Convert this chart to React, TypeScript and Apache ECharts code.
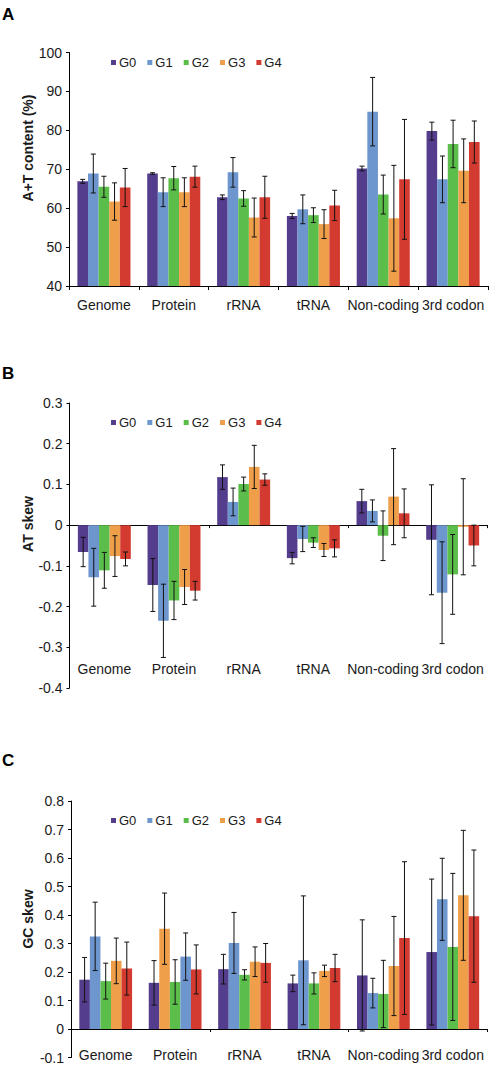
import React, { useEffect, useRef } from "react";
import * as echarts from "echarts";

const categories = ["Genome", "Protein", "rRNA", "tRNA", "Non-coding", "3rd codon"];
const groups = ["G0", "G1", "G2", "G3", "G4"];

// Panel A: A+T content (%)
const atG0 = [66.9, 68.9, 62.8, 58.0, 70.2, 79.8];
const atG1 = [68.9, 64.1, 69.2, 59.7, 84.8, 67.4];
const atG2 = [65.5, 67.7, 62.5, 58.2, 63.5, 76.5];
const atG3 = [61.7, 64.1, 57.6, 55.9, 57.4, 69.6];
const atG4 = [65.3, 68.1, 62.8, 60.7, 67.4, 77.0];
const atErrG0 = [0.5, 0.2, 0.6, 0.65, 0.6, 2.3];
const atErrG1 = [5.0, 3.7, 3.8, 3.7, 8.8, 6.0];
const atErrG2 = [2.7, 3.0, 2.0, 1.9, 5.0, 6.1];
const atErrG3 = [4.8, 3.7, 5.0, 3.7, 13.6, 8.2];
const atErrG4 = [4.9, 2.7, 5.4, 3.9, 15.4, 5.4];

// Panel B: AT skew
const askG0 = [-0.066, -0.147, 0.118, -0.081, 0.059, -0.036];
const askG1 = [-0.128, -0.235, 0.057, -0.034, 0.035, -0.166];
const askG2 = [-0.111, -0.185, 0.101, -0.043, -0.026, -0.121];
const askG3 = [-0.076, -0.152, 0.143, -0.061, 0.07, -0.004];
const askG4 = [-0.083, -0.161, 0.112, -0.057, 0.029, -0.05];
const askErrG0 = [0.036, 0.065, 0.03, 0.014, 0.029, 0.135];
const askErrG1 = [0.071, 0.09, 0.034, 0.031, 0.027, 0.125];
const askErrG2 = [0.044, 0.047, 0.017, 0.012, 0.061, 0.098];
const askErrG3 = [0.05, 0.043, 0.053, 0.016, 0.118, 0.118];
const askErrG4 = [0.017, 0.023, 0.014, 0.021, 0.06, 0.05];

// Panel C: GC skew
const gskG0 = [0.173, 0.162, 0.21, 0.16, 0.188, 0.27];
const gskG1 = [0.325, 0.352, 0.302, 0.241, 0.126, 0.455];
const gskG2 = [0.168, 0.165, 0.19, 0.16, 0.123, 0.288];
const gskG3 = [0.239, 0.254, 0.236, 0.204, 0.221, 0.469];
const gskG4 = [0.212, 0.209, 0.232, 0.214, 0.319, 0.396];
const gskErrG0 = [0.078, 0.078, 0.052, 0.029, 0.195, 0.256];
const gskErrG1 = [0.12, 0.125, 0.107, 0.226, 0.052, 0.144];
const gskErrG2 = [0.063, 0.078, 0.018, 0.037, 0.118, 0.258];
const gskErrG3 = [0.08, 0.083, 0.052, 0.02, 0.174, 0.228];
const gskErrG4 = [0.093, 0.086, 0.068, 0.048, 0.268, 0.232];

// A-tick labels
const atTicks = { min: 40, max: 100, interval: 10 };
const askTicks = { min: -0.4, max: 0.3, interval: 0.1 };
const gskTicks = { min: -0.1, max: 0.8, interval: 0.1 };

const COLORS = ["#553D8E", "#6D96CF", "#5CBE4A", "#EF9E4A", "#D43B30"];
const FONT = "'Liberation Sans', Arial, Helvetica, sans-serif";
const GAP = 0.24;
// In the GC-skew panel, the G1 and G3 colours are exchanged for this category in the source figure
const gcSwapCategory = "Protein";

const panels = [
  {
    name: "A+T content (%)",
    letter: "A",
    vals: [atG0, atG1, atG2, atG3, atG4],
    errs: [atErrG0, atErrG1, atErrG2, atErrG3, atErrG4],
    ticks: atTicks,
    grid: { left: 69, top: 52.5, width: 419, height: 233.5 },
    legendTop: 56,
    nameY: 148,
    letterY: 14,
    labelOffset: 0,
    labelMargin: 12,
    zeroAxis: false,
    swap: null as string | null,
  },
  {
    name: "AT skew",
    letter: "B",
    vals: [askG0, askG1, askG2, askG3, askG4],
    errs: [askErrG0, askErrG1, askErrG2, askErrG3, askErrG4],
    ticks: askTicks,
    grid: { left: 69.5, top: 403, width: 418, height: 285 },
    legendTop: 416,
    nameY: 524,
    letterY: 373,
    labelOffset: -34,
    labelMargin: 8,
    zeroAxis: true,
    swap: null as string | null,
  },
  {
    name: "GC skew",
    letter: "C",
    vals: [gskG0, gskG1, gskG2, gskG3, gskG4],
    errs: [gskErrG0, gskErrG1, gskErrG2, gskErrG3, gskErrG4],
    ticks: gskTicks,
    grid: { left: 71, top: 801, width: 416.5, height: 256.5 },
    legendTop: 814,
    nameY: 919,
    letterY: 760,
    labelOffset: -17.5,
    labelMargin: 8,
    zeroAxis: true,
    swap: gcSwapCategory as string | null,
  },
];

function buildOption() {
  const grids: any[] = [];
  const xAxes: any[] = [];
  const yAxes: any[] = [];
  const series: any[] = [];
  const legends: any[] = [];
  const graphics: any[] = [];

  panels.forEach((p, pi) => {
    grids.push({ ...p.grid, containLabel: false });
    const labelAxisIndex = xAxes.length;
    xAxes.push({
      type: "category",
      gridIndex: pi,
      data: categories,
      position: "bottom",
      offset: p.labelOffset,
      axisLine: p.zeroAxis
        ? { show: false, onZero: false }
        : { show: true, onZero: false, lineStyle: { color: "#000", width: 1 } },
      axisTick: p.zeroAxis
        ? { show: false }
        : { show: true, length: 4, lineStyle: { color: "#000" } },
      axisLabel: {
        show: true,
        margin: p.labelMargin,
        color: "#1a1a1a",
        fontSize: 14,
        fontFamily: FONT,
        interval: 0,
      },
      splitLine: { show: false },
    });
    if (p.zeroAxis) {
      xAxes.push({
        type: "category",
        gridIndex: pi,
        data: categories,
        position: "bottom",
        axisLine: { show: true, onZero: true, onZeroAxisIndex: pi, lineStyle: { color: "#000", width: 1 } },
        axisTick: { show: true, length: 3, lineStyle: { color: "#000" } },
        axisLabel: { show: false },
        splitLine: { show: false },
      });
    }
    yAxes.push({
      type: "value",
      gridIndex: pi,
      min: p.ticks.min,
      max: p.ticks.max,
      interval: p.ticks.interval,
      axisLine: { show: true, lineStyle: { color: "#000", width: 1 } },
      axisTick: { show: true, length: 3, lineStyle: { color: "#000" } },
      axisLabel: { color: "#1a1a1a", fontSize: 14, fontFamily: FONT, margin: 7 },
      splitLine: { show: false },
    });

    groups.forEach((g, gi) => {
      series.push({
        type: "bar",
        name: g,
        xAxisIndex: labelAxisIndex,
        yAxisIndex: pi,
        barGap: "0%",
        barCategoryGap: GAP * 100 + "%",
        itemStyle: { color: COLORS[gi] },
        data: p.vals[gi].map((v, k) => {
          if (p.swap && categories[k] === p.swap && (gi === 1 || gi === 3)) {
            return { value: v, itemStyle: { color: COLORS[gi === 1 ? 3 : 1] } };
          }
          return v;
        }),
      });
    });
    groups.forEach((g, gi) => {
      series.push({
        type: "custom",
        xAxisIndex: labelAxisIndex,
        yAxisIndex: pi,
        z: 10,
        silent: true,
        data: p.vals[gi].map((v, k) => [k, v, p.errs[gi][k]]),
        encode: { x: 0, y: 1 },
        renderItem: (params: any, api: any) => {
          const k = api.value(0);
          const v = api.value(1);
          const e = api.value(2);
          const band = api.size([1, 0])[0];
          const bw = (band * (1 - GAP)) / groups.length;
          const x = api.coord([k, v])[0] + (gi - (groups.length - 1) / 2) * bw;
          const yt = api.coord([k, v + e])[1];
          const yb = api.coord([k, v - e])[1];
          const style = { stroke: "#111", lineWidth: 1 };
          return {
            type: "group",
            children: [
              { type: "line", shape: { x1: x, y1: yt, x2: x, y2: yb }, style },
              { type: "line", shape: { x1: x - 2.5, y1: yt, x2: x + 2.5, y2: yt }, style },
              { type: "line", shape: { x1: x - 2.5, y1: yb, x2: x + 2.5, y2: yb }, style },
            ],
          };
        },
      });
    });

    legends.push({
      data: groups,
      left: 111,
      top: p.legendTop,
      padding: 0,
      orient: "horizontal",
      icon: "rect",
      itemWidth: 5,
      itemHeight: 5,
      itemGap: 11,
      selectedMode: false,
      textStyle: { fontSize: 13, color: "#1a1a1a", fontFamily: FONT, padding: [0, 0, 0, -2] },
    });

    graphics.push({
      type: "text",
      x: 28,
      y: p.nameY,
      rotation: Math.PI / 2,
      style: {
        text: p.name,
        fontSize: 14,
        fontWeight: "bold",
        fontFamily: FONT,
        fill: "#1a1a1a",
        textAlign: "center",
        textVerticalAlign: "middle",
      },
    });
    graphics.push({
      type: "text",
      x: 2,
      y: p.letterY,
      style: {
        text: p.letter,
        fontSize: 17,
        fontWeight: "bold",
        fontFamily: FONT,
        fill: "#000",
        textAlign: "left",
        textVerticalAlign: "middle",
      },
    });
  });

  return {
    animation: false,
    backgroundColor: "#fff",
    grid: grids,
    xAxis: xAxes,
    yAxis: yAxes,
    legend: legends,
    series,
    graphic: graphics,
  };
}

export default function App() {
  const ref = useRef<HTMLDivElement>(null);
  useEffect(() => {
    if (!ref.current) return;
    const chart = echarts.init(ref.current, null, { renderer: "svg" });
    chart.setOption(buildOption());
    return () => chart.dispose();
  }, []);
  return (
    <div
      ref={ref}
      style={{ position: "absolute", left: 0, top: 0, width: 496, height: 1067, background: "#fff" }}
    />
  );
}
